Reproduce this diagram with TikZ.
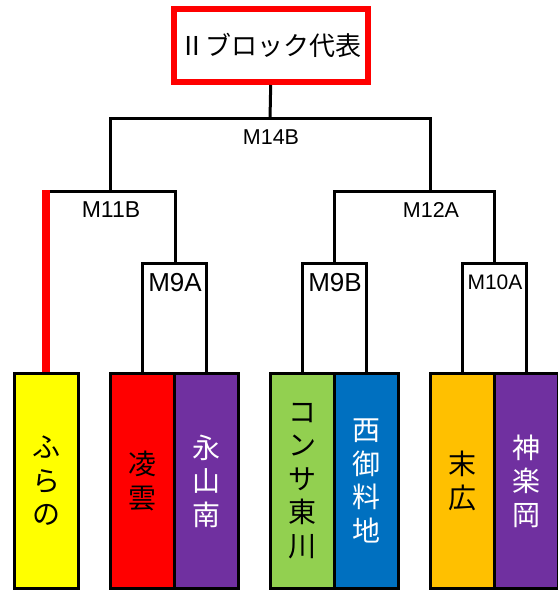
\documentclass[tikz,border=0pt]{standalone}
\usepackage{fontspec}
\setmainfont{Liberation Sans}
\newfontfamily\jpfont{Noto Sans CJK JP}
\usetikzlibrary{positioning}
\definecolor{tyellow}{HTML}{FFFF00}
\definecolor{tred}{HTML}{FF0000}
\definecolor{tpurple}{HTML}{7030A0}
\definecolor{tgreen}{HTML}{92D050}
\definecolor{tblue}{HTML}{0070C0}
\definecolor{torange}{HTML}{FFC000}

\begin{document}
\begin{tikzpicture}[x=1pt,y=-1pt,
  team/.style={rectangle,draw,line width=3pt,outer sep=0pt,inner sep=0pt,minimum width=64pt,minimum height=215pt,align=center,font=\jpfont\fontsize{28}{33.5}\selectfont},
  match/.style={inner sep=0pt,font=\fontsize{21.5}{21.5}\selectfont},
  bigmatch/.style={inner sep=0pt,font=\fontsize{26}{26}\selectfont},
  bracket/.style={draw,line width=3pt},
  winline/.style={draw,tred,line width=8pt}]
\useasboundingbox (0,0) rectangle (557,591);
\node(winner)[rectangle,draw=tred,line width=6pt,minimum width=194pt,minimum height=73pt,inner sep=0pt,font=\jpfont\fontsize{26}{26}\selectfont] at (270.7,45.5){Ⅱブロック代表};
\node(furano)[team,fill=tyellow] at (46,481){ふ\\ら\\の};
\node(ryoun)[team,fill=tred] at (142.5,481){凌\\雲};
\node(nagayama)[team,fill=tpurple,text=white,right=0pt of ryoun]{永\\山\\南};
\node(higashikawa)[team,fill=tgreen] at (302.5,481){コ\\ン\\サ\\東\\川};
\node(nishigoryo)[team,fill=tblue,text=white,right=0pt of higashikawa]{西\\御\\料\\地};
\node(suehiro)[team,fill=torange] at (462,481){末\\広};
\node(kagura)[team,fill=tpurple,text=white,right=0pt of suehiro]{神\\楽\\岡};
\coordinate(m9atop) at (175,263);
\coordinate(m9btop) at (334.5,263);
\coordinate(m10atop) at (494,263);
\coordinate(m11btop) at (110,191);
\coordinate(m12atop) at (430,191);
\coordinate(m14btop) at (270,119);
\node(m9a)[bigmatch] at (175,283){M9A};
\node(m9b)[bigmatch] at (335,283){M9B};
\node(m10a)[match,font=\fontsize{21}{21}\selectfont] at (495,282){M10A};
\node(m11b)[match,font=\fontsize{23}{23}\selectfont] at (111,210){M11B};
\node(m12a)[match] at (431,210){M12A};
\node(m14b)[match] at (271,137){M14B};
\path[bracket] (ryoun.north) |- (m9atop) -| (nagayama.north);
\path[bracket] (higashikawa.north) |- (m9btop) -| (nishigoryo.north);
\path[bracket] (suehiro.north) |- (m10atop) -| (kagura.north);
\path[bracket] (furano.north |- m11btop) -- (m11btop) -| (m9atop);
\path[bracket] (m9btop) |- (m12atop) -| (m10atop);
\path[bracket] (m11btop) |- (m14btop) -| (m12atop);
\path[bracket] (m14btop) -- (winner.south);
\path[winline] ([yshift=1.5pt]furano.north) -- ([yshift=1.5pt]furano.north |- m11btop);
\end{tikzpicture}
\end{document}
